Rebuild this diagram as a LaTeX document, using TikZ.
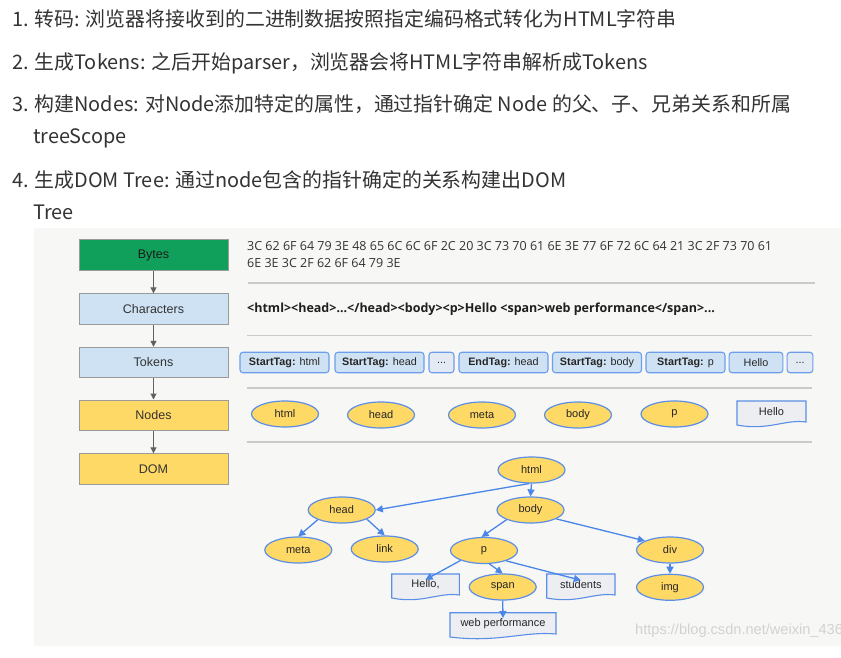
\documentclass[tikz,border=0pt]{standalone}
\usepackage{fontspec}
\setmainfont{Liberation Sans}
\newfontfamily\cjk{Noto Sans CJK SC}
\newfontfamily\osans{Open Sans}
\usetikzlibrary{shapes.geometric,arrows.meta}
\definecolor{panel}{HTML}{F7F7F5}
\definecolor{toptxt}{HTML}{333333}
\definecolor{bytesgreen}{HTML}{11A05C}
\definecolor{lblue}{HTML}{CFE2F3}
\definecolor{lyellow}{HTML}{FFD966}
\definecolor{boxgray}{HTML}{9A9A9A}
\definecolor{sepgray}{HTML}{CACACA}
\definecolor{tokborder}{HTML}{6D9EEB}
\definecolor{tokdots}{HTML}{E3EAF3}
\definecolor{ellborder}{HTML}{5B8EE6}
\definecolor{edgeblue}{HTML}{4A86E8}
\definecolor{docfillc}{HTML}{ECEEF2}
\definecolor{wmgray}{HTML}{D2D2D2}
\newcommand{\fs}[1]{\fontsize{#1}{#1}\selectfont}
\newcommand{\docnode}[6]{%
  \path[docshape] (#2,#3) -- (#4,#3) -- (#4,#5-3)
    .. controls ({#4-0.3*(#4-#2)},#5-6) and ({#2+0.45*(#4-#2)},#5+6) .. (#2,#5) -- cycle;
  \node[doctext] (#1) at ({(#2+#4)/2},{(#3+#5)/2-1.5}) {#6};}
\begin{document}
\begin{tikzpicture}[x=1pt,y=-1pt,
  toptext/.style={anchor=base west, inner sep=0, font=\cjk\fs{19.9}, text=toptxt},
  lbox/.style={rectangle, draw=boxgray, line width=0.9pt, minimum width=149pt, minimum height=30.5pt, inner sep=0, font=\fs{12.5}, text=toptxt},
  grayarrow/.style={draw=black!62, line width=1.1pt, -{Triangle[length=6pt,width=6pt]}},
  sep/.style={draw=sepgray, line width=1.4pt},
  tok/.style={rectangle, rounded corners=3pt, draw=tokborder, fill=lblue, line width=1.1pt, minimum height=20.5pt, inner sep=0, font=\fs{10.8}, text=black!85},
  ell/.style={ellipse, draw=ellborder, fill=lyellow, line width=1.2pt, minimum width=67pt, minimum height=26pt, inner sep=0, font=\fs{11}, text=black!85},
  docshape/.style={draw=ellborder, fill=docfillc, line width=1.1pt},
  doctext/.style={inner sep=0, font=\fs{11}, text=black!85},
  treearrow/.style={draw=edgeblue, line width=1.3pt, -{Triangle[length=7pt,width=7pt]}}
]
\useasboundingbox (0,0) rectangle (841,658);
\fill[white] (0,0) rectangle (841,658);
\fill[panel] (34,228) rectangle (841,646);

% top text
\node[toptext] (l1) at (12,27) {1. 转码: 浏览器将接收到的二进制数据按照指定编码格式转化为HTML字符串};
\node[toptext] (l2) at (12,70) {2. 生成Tokens: 之后开始parser，浏览器会将HTML字符串解析成Tokens};
\node[toptext] (l3) at (12,112) {3. 构建Nodes: 对Node添加特定的属性，通过指针确定 Node 的父、子、兄弟关系和所属};
\node[toptext] (l3b) at (33,144) {treeScope};
\node[toptext] (l4) at (12,187) {4. 生成DOM Tree: 通过node包含的指针确定的关系构建出DOM};
\node[toptext] (l4b) at (33,219) {Tree};

% left column
\node[lbox, fill=bytesgreen, text=black!90] (bytes) at (153.5,255) {Bytes};
\node[lbox, fill=lblue] (chars) at (153.5,309) {Characters};
\node[lbox, fill=lblue] (tokens) at (153.5,362.5) {Tokens};
\node[lbox, fill=lyellow] (nodes) at (153.5,415.2) {Nodes};
\node[lbox, fill=lyellow] (dom) at (153.5,469) {DOM};
\draw[grayarrow] (bytes) -- (chars);
\draw[grayarrow] (chars) -- (tokens);
\draw[grayarrow] (tokens) -- (nodes);
\draw[grayarrow] (nodes) -- (dom);

% separators
\draw[sep] (248,283) -- (815,283);
\draw[sep] (247,335.5) -- (812,335.5);
\draw[sep] (247,388) -- (812,388);
\draw[sep] (247,442) -- (812,442);

% bytes text
\node[anchor=west, inner sep=0, align=left, font=\osans\fontsize{12.5}{16.5}\selectfont, text=toptxt] (hex) at (247,254.5)
  {3C 62 6F 64 79 3E 48 65 6C 6C 6F 2C 20 3C 73 70 61 6E 3E 77 6F 72 6C 64 21 3C 2F 73 70 61\\6E 3E 3C 2F 62 6F 64 79 3E};

% characters text
\node[anchor=west, inner sep=0, font=\osans\bfseries\fs{12.5}, text=black!88] (chartext) at (247,309)
  {<html><head>...</head><body><p>Hello <span>web performance</span>...};

% tokens
\node[tok, minimum width=89pt] (t1) at (284.5,362.5) {\textbf{StartTag:} html};
\node[tok, minimum width=89pt] (t2) at (379.5,362.5) {\textbf{StartTag:} head};
\node[tok, minimum width=25pt, fill=tokdots] (t3) at (441.5,362.5) {...};
\node[tok, minimum width=89pt] (t4) at (503.5,362.5) {\textbf{EndTag:} head};
\node[tok, minimum width=89pt] (t5) at (597,362.5) {\textbf{StartTag:} body};
\node[tok, minimum width=79pt] (t6) at (685.5,362.5) {\textbf{StartTag:} p};
\node[tok, minimum width=53.7pt] (t7) at (756,362.5) {Hello};
\node[tok, minimum width=25.7pt, fill=tokdots] (t8) at (800,362.5) {...};

% nodes row
\node[ell] (nhtml) at (285,414) {html};
\node[ell] (nhead) at (381,415) {head};
\node[ell] (nmeta) at (482,415) {meta};
\node[ell] (nbody) at (578,415) {body};
\node[ell] (np) at (674.5,414) {p};
\docnode{nhello}{737}{401}{806}{425}{Hello}

% DOM tree
\node[ell] (html) at (531.5,470) {html};
\node[ell] (body) at (530.5,510) {body};
\node[ell] (head) at (341.7,510) {head};
\node[ell] (meta) at (298.3,550) {meta};
\node[ell] (link) at (384.7,549) {link};
\node[ell] (p) at (484,550.5) {p};
\node[ell] (div) at (670,550) {div};
\node[ell] (img) at (670,587.3) {img};
\node[ell] (span) at (502.7,587) {span};
\docnode{hello}{391.7}{574}{459.3}{598}{Hello,}
\docnode{students}{546.7}{574}{615}{598}{students}
\docnode{webperf}{450}{612.7}{556}{637}{web performance}

\draw[treearrow] (html.-100) -- (head.east);
\draw[treearrow] (html.south) -- (body.north);
\draw[treearrow] (head.-158) -- (meta.north);
\draw[treearrow] (head.-20) -- (link.north);
\draw[treearrow] (body.-158) -- (p.100);
\draw[treearrow] (body.-19) -- (div.160);
\draw[treearrow] (p.-157) -- (hello.north);
\draw[treearrow] (p.-68) -- (span.north);
\draw[treearrow] (p.-25) -- (students.north);
\draw[treearrow] (div.south) -- (img.north);
\draw[treearrow] (span.south) -- (webperf.north);

% watermark
\node[anchor=west, inner sep=0, font=\fs{14.6}, text=wmgray] (wm) at (635,630.5) {https://blog.csdn.net/weixin\_4363};
\end{tikzpicture}
\end{document}
